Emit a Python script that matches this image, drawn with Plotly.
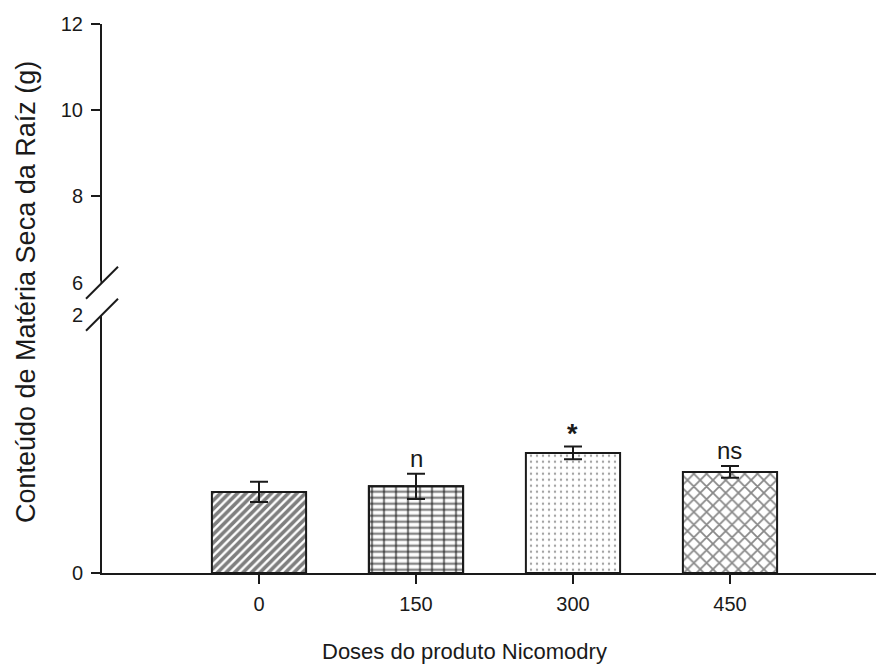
import plotly.graph_objects as go

# Root dry matter per dose of Nicomodry (g)
doses = ["0", "150", "300", "450"]
means = [0.628, 0.671, 0.930, 0.783]
errors = [0.078, 0.098, 0.050, 0.045]
marks = ["", "n", "*", "ns"]

# Fill textures, one per dose
shapes_fill = ["/", "-", ".", "x"]
sizes_fill = [6, 6, 6, 9]
solid_fill = [0.6, 0.4, 0.12, 0.35]
fg_fill = ["#000000", "#111111", "#444444", "#111111"]

lower_ticks = [0, 2]
upper_ticks = [6, 8, 10, 12]

LOWER_DOM = [0, 0.4705]
UPPER_DOM = [0.5288, 1]

FONT = "Liberation Sans, Arial, sans-serif"
INK = "#1a1a1a"

fig = go.Figure()

fig.add_trace(go.Bar(
    x=doses, y=means, width=0.6,
    marker=dict(
        color="white",
        line=dict(color=INK, width=2),
        pattern=dict(shape=shapes_fill, size=sizes_fill, solidity=solid_fill,
                     fgcolor=fg_fill, bgcolor="white"),
    ),
    error_y=dict(type="data", array=errors, visible=True,
                 color=INK, thickness=2, width=9),
    xaxis="x", yaxis="y", showlegend=False,
))

# vertical joints of the brick texture on the 150 dose bar
fig.add_trace(go.Bar(
    x=[doses[1]], y=[means[1]], width=0.6,
    marker=dict(
        color="rgba(0,0,0,0)",
        line=dict(color=INK, width=2),
        pattern=dict(shape="|", size=12, solidity=0.2, fgcolor="#111111",
                     bgcolor="rgba(0,0,0,0)"),
    ),
    xaxis="x", yaxis="y", showlegend=False, hoverinfo="skip",
))

axis_common = dict(showgrid=False, zeroline=False, showline=True,
                   linecolor=INK, linewidth=2, automargin=False,
                   ticks="outside", ticklen=9, tickwidth=1.5, tickcolor=INK,
                   tickfont=dict(family=FONT, size=20, color=INK))

fig.update_layout(
    width=876, height=666,
    margin=dict(l=102, r=0, t=24, b=93),
    plot_bgcolor="white", paper_bgcolor="white",
    barmode="overlay",
    xaxis=dict(type="category", range=[-1, 3.93], anchor="y",
               ticklabelstandoff=3, **axis_common),
    # lower segment of the broken axis
    yaxis=dict(domain=LOWER_DOM, range=[0, 2], anchor="x",
               tickmode="array", tickvals=lower_ticks,
               ticklabelstandoff=4, **axis_common),
    # upper segment of the broken axis
    yaxis2=dict(domain=UPPER_DOM, range=[6, 12], anchor="x",
                tickmode="array", tickvals=upper_ticks,
                ticklabelstandoff=4, **axis_common),
)

# keep the upper segment drawn even though it holds no bars
fig.add_trace(go.Scatter(x=[doses[0]], y=[upper_ticks[-1]], xaxis="x", yaxis="y2",
                         mode="markers", marker=dict(opacity=0),
                         showlegend=False, hoverinfo="skip"))

# break marks on the y axis, at the inner ends of both segments
for yv in (UPPER_DOM[0], LOWER_DOM[1]):
    # clear the tick stub under the break mark
    fig.add_shape(type="rect", xref="paper", yref="paper",
                  xsizemode="pixel", ysizemode="pixel",
                  xanchor=0, yanchor=yv,
                  x0=-11, x1=-1.5, y0=-2, y1=2,
                  line=dict(width=0), fillcolor="white", layer="above")
    fig.add_shape(type="line", xref="paper", yref="paper",
                  xsizemode="pixel", ysizemode="pixel",
                  xanchor=0, yanchor=yv,
                  x0=-16, x1=16, y0=-16, y1=16,
                  line=dict(color=INK, width=2), layer="above")

# significance marks above the error bars
shift = {"n": 0, "*": -5, "ns": 0}
for i, (m, e, t) in enumerate(zip(means, errors, marks)):
    if not t:
        continue
    big = t == "*"
    fig.add_annotation(x=i, y=m + e, xref="x", yref="y",
                       text="<b>*</b>" if big else t,
                       showarrow=False, yanchor="bottom",
                       yshift=shift[t],
                       font=dict(family=FONT, size=27 if big else 24, color=INK))

fig.add_annotation(text="Conteúdo de Matéria Seca da Raíz (g)",
                   xref="paper", yref="paper", x=-0.098, y=0.512,
                   textangle=-90, showarrow=False,
                   xanchor="center", yanchor="middle",
                   font=dict(family=FONT, size=27, color=INK))

fig.add_annotation(text="Doses do produto Nicomodry",
                   xref="paper", yref="paper", x=0.468, y=-0.1434,
                   showarrow=False, xanchor="center", yanchor="middle",
                   font=dict(family=FONT, size=22, color=INK))

fig.write_html("out.html")
